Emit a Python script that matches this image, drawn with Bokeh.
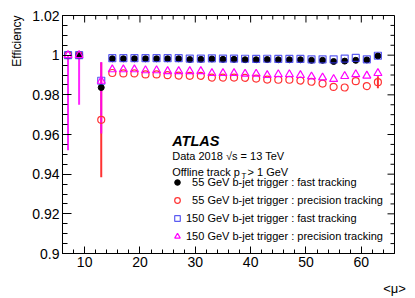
import math
from bokeh.plotting import figure
from bokeh.models import Range1d, FixedTicker, Label, Legend, LegendItem, Title
from bokeh.embed import file_html
from bokeh.resources import INLINE

nan = float("nan")

mu = [7, 9, 13, 15, 17, 19, 21, 23, 25, 27, 29, 31, 33, 35, 37, 39, 41, 43, 45,
      47, 49, 51, 53, 55, 57, 59, 61, 63]

fast55 = [nan, 1.0, 0.9837, 0.9982, 0.9982, 0.9982, 0.9982, 0.9982, 0.9982, 0.9982,
          0.9978, 0.9979, 0.9981, 0.9979, 0.9979, 0.9977, 0.9977, 0.9978, 0.9977,
          0.9977, 0.9977, 0.9974, 0.9974, 0.9968, 0.9970, 0.9974, 0.9976, 0.9996]

prec55 = [1.0, 1.0, 0.9674, 0.9910, 0.9908, 0.9908, 0.9903, 0.9903, 0.9899, 0.9897,
          0.9896, 0.9896, 0.9887, 0.9887, 0.9887, 0.9886, 0.9882, 0.9877, 0.9876,
          0.9876, 0.9872, 0.9866, 0.9857, 0.9840, 0.9837, 0.9869, 0.9844, 0.9864]

fast150 = [1.0, 1.0, 0.9871, 0.9985, 0.9985, 0.9985, 0.9985, 0.9985, 0.9985, 0.9985,
           0.9983, 0.9983, 0.9984, 0.9983, 0.9983, 0.9982, 0.9981, 0.9982, 0.9981,
           0.9981, 0.9981, 0.9979, 0.9979, 0.9979, 0.9983, 0.9986, 0.9979, 0.9997]

prec150 = [1.0, 1.0, 0.9870, 0.9928, 0.9928, 0.9928, 0.9923, 0.9923, 0.9919, 0.9919,
           0.9919, 0.9919, 0.9909, 0.9909, 0.9909, 0.9906, 0.9906, 0.9899, 0.9903,
           0.9903, 0.9899, 0.9892, 0.9887, 0.9879, 0.9894, 0.9903, 0.9896, 0.9909]

# asymmetric errors (down, up) where visible
prec55_err_lo = [0, 0, 0.0289] + [0] * 24 + [0.0031]
prec55_err_hi = [0, 0, 0.0289] + [0] * 24 + [0.0030]
prec150_err_lo = [0.048, 0.025, 0.0265] + [0] * 25
prec150_err_hi = [0, 0, 0.0095] + [0] * 25

x_ticks = [10, 20, 30, 40, 50, 60]
x_minor = [6, 8, 12, 14, 16, 18, 22, 24, 26, 28, 32, 34, 36, 38, 42, 44, 46, 48,
           52, 54, 56, 58, 62, 64, 66]
y_ticks = [0.9, 0.92, 0.94, 0.96, 0.98, 1.0, 1.02]
y_tick_labels = ["0.9", "0.92", "0.94", "0.96", "0.98", "1", "1.02"]
y_minor = [0.905, 0.91, 0.915, 0.925, 0.93, 0.935, 0.945, 0.95, 0.955, 0.965, 0.97,
           0.975, 0.985, 0.99, 0.995, 1.005, 1.01, 1.015]

FONT = "Liberation Sans"
BLACK = "#000000"
RED = "#ff3333"
BLUE = "#3333ee"
MAGENTA = "#ff00ff"

X0, X1, Y0, Y1 = 6, 66, 0.9, 1.02
# frame in page px (reference coords)
FL, FR, FT, FB = 62, 394, 15, 253
W, H = 415, 298


def px2x(px):
    return X0 + (px - FL) * (X1 - X0) / (FR - FL)


def py2y(py):
    return Y1 - (py - FT) * (Y1 - Y0) / (FB - FT)


p = figure(width=W, height=H, x_range=Range1d(X0, X1), y_range=Range1d(Y0, Y1),
           output_backend="svg", toolbar_location=None,
           min_border_left=FL, min_border_right=W - FR, min_border_top=FT,
           min_border_bottom=H - FB)
p.xgrid.visible = False
p.ygrid.visible = False
p.outline_line_color = "black"
p.outline_line_width = 1
p.background_fill_color = "white"
p.border_fill_color = "white"


def style_axis(ax, ticker, maj, mnr):
    ax.ticker = ticker
    ax.major_tick_in = maj
    ax.major_tick_out = 0
    ax.minor_tick_in = mnr
    ax.minor_tick_out = 0
    ax.axis_line_color = "black"
    ax.major_tick_line_color = "black"
    ax.minor_tick_line_color = "black"
    ax.major_label_text_font = FONT
    ax.major_label_text_color = "black"
    ax.major_label_text_font_size = "14px"
    ax.major_label_standoff = 3
    ax.axis_label_text_font = FONT
    ax.axis_label_text_font_style = "normal"
    ax.axis_label_text_color = "black"


style_axis(p.xaxis[0], FixedTicker(ticks=x_ticks, minor_ticks=x_minor), 7, 4)
style_axis(p.yaxis[0], FixedTicker(ticks=y_ticks, minor_ticks=y_minor), 9, 5)
p.yaxis[0].major_label_overrides = {t: l for t, l in zip(y_ticks, y_tick_labels)}
p.xaxis[0].axis_label = "<\u03bc>"
p.xaxis[0].axis_label_align = "end"
p.xaxis[0].axis_label_text_font_size = "13px"
p.xaxis[0].axis_label_standoff = 11

ytitle = Title(text="Efficiency", align="right", text_font=FONT, text_font_size="12px",
               text_font_style="normal", text_color="black", standoff=11, offset=0)
p.add_layout(ytitle, "left")

# mirrored ticks on the top and right edges
p.ray(x=x_ticks, y=Y1, length=7, angle=-math.pi / 2, length_units="screen",
      line_color="black", line_width=1)
p.ray(x=x_minor, y=Y1, length=4, angle=-math.pi / 2, length_units="screen",
      line_color="black", line_width=1)
p.ray(x=X1, y=y_ticks, length=7, angle=math.pi, length_units="screen",
      line_color="black", line_width=1)
p.ray(x=X1, y=y_minor, length=4, angle=math.pi, length_units="screen",
      line_color="black", line_width=1)

# error bars
lo55 = [v - e for v, e in zip(prec55, prec55_err_lo)]
hi55 = [v + e for v, e in zip(prec55, prec55_err_hi)]
lo150 = [v - e for v, e in zip(prec150, prec150_err_lo)]
hi150 = [v + e for v, e in zip(prec150, prec150_err_hi)]
p.segment(x0=mu, y0=lo55, x1=mu, y1=hi55, line_color=RED, line_width=2)
p.segment(x0=mu, y0=lo150, x1=mu, y1=hi150, line_color=MAGENTA, line_width=2, line_alpha=0.85)

r1 = p.scatter(mu, fast55, marker="circle", size=6, fill_color=BLACK, line_color=BLACK)
r2 = p.scatter(mu, prec55, marker="circle", size=7, fill_color=None, line_color=RED,
               line_width=1.2)
r3 = p.scatter(mu, fast150, marker="square", size=7, fill_color=None, line_color=BLUE,
               line_width=1.2, line_alpha=0.8)
r4 = p.scatter(mu, prec150, marker="triangle", size=8, fill_color=None, line_color=MAGENTA,
               line_width=1.2)

nb = "\u00a0\u00a0"
legend = Legend(items=[
    LegendItem(label=nb + "55 GeV b-jet trigger : fast tracking", renderers=[r1]),
    LegendItem(label=nb + "55 GeV b-jet trigger : precision tracking", renderers=[r2]),
    LegendItem(label="150 GeV b-jet trigger : fast tracking", renderers=[r3]),
    LegendItem(label="150 GeV b-jet trigger : precision tracking", renderers=[r4]),
], location=(108, 10), orientation="vertical",
    glyph_width=14, glyph_height=14, label_height=14, label_standoff=2, spacing=4,
    padding=0, margin=0, border_line_alpha=0, background_fill_alpha=0,
    label_text_font=FONT, label_text_font_size="11px", label_text_color="black")
p.add_layout(legend, "center")


def lab(x, y, text, size="11px", style="normal", **kw):
    p.add_layout(Label(x=x, y=y, text=text, text_font=FONT, text_font_size=size,
                       text_font_style=style, text_color="black", **kw))


lab(px2x(171.7), py2y(140), "ATLAS", size="14.5px", style="bold italic",
    text_baseline="alphabetic")
lab(px2x(171.7), py2y(155.7), "Data 2018 \u221as = 13 TeV", text_baseline="alphabetic")
lab(px2x(171.7), py2y(171.7), "Offline track p", text_baseline="alphabetic")
lab(px2x(241), py2y(174.5), "T", size="8px", text_baseline="alphabetic")
lab(px2x(247), py2y(171.7), "> 1 GeV", text_baseline="alphabetic")

open("out.html", "w").write(file_html(p, INLINE))
